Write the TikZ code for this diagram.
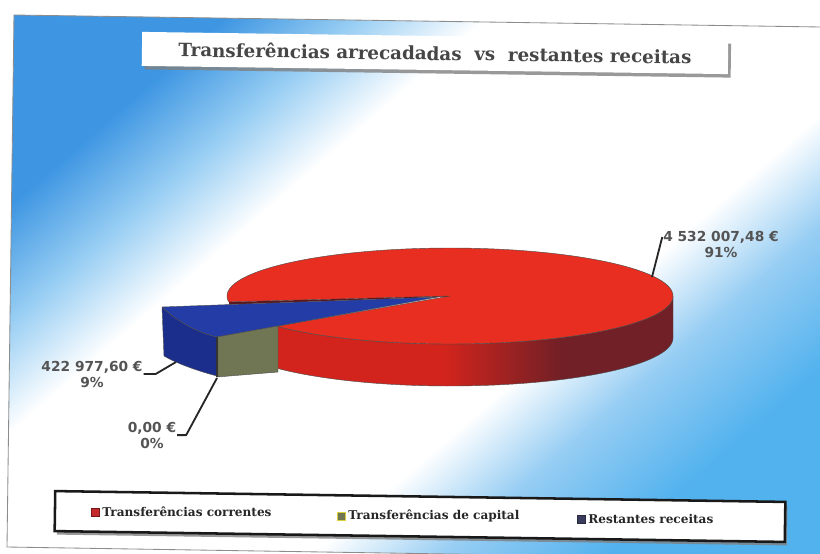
\documentclass[tikz,border=0pt]{standalone}
\usepackage{fontspec}
\setmainfont{DejaVu Serif}
\newfontfamily\titlefont{DejaVu Serif}
\newfontfamily\keyfont{DejaVu Serif}
\newfontfamily\valuefont{DejaVu Sans}
\usetikzlibrary{positioning,shadows}

\definecolor{skytop}{RGB}{62,150,226}
\definecolor{skypale}{RGB}{150,205,243}
\definecolor{skylow}{RGB}{82,178,238}
\definecolor{redtop}{RGB}{232,46,32}
\definecolor{redside}{RGB}{210,36,28}
\definecolor{redshade}{RGB}{112,32,38}
\definecolor{bluetop}{RGB}{36,60,166}
\definecolor{blueside}{RGB}{28,46,140}
\definecolor{olivecut}{RGB}{112,118,84}
\definecolor{valuegray}{RGB}{84,84,84}
\definecolor{titlegray}{RGB}{70,70,70}
\definecolor{keyred}{RGB}{196,40,44}
\definecolor{keyblue}{RGB}{58,60,92}

\pgfdeclarehorizontalshading{skyband}{100bp}{color(0bp)=(skytop); color(25.5bp)=(skytop); color(31.9bp)=(skypale); color(38.3bp)=(white); color(59.9bp)=(white); color(66.3bp)=(skypale); color(74.3bp)=(skylow); color(100bp)=(skylow)}
\pgfdeclarehorizontalshading{redrim}{100bp}{color(0bp)=(redside); color(46bp)=(redside); color(61bp)=(redshade); color(100bp)=(redshade)}

\begin{document}
\begin{tikzpicture}[
    x=0.025cm, y=-0.025cm,
    face/.style={draw=black!70, line width=0.3pt, line join=round},
    leader/.style={draw=black!85, line width=1.3pt, line join=round},
    value/.style={font=\valuefont\bfseries\fontsize{9.8}{11}\selectfont, text=valuegray, inner sep=0.5pt},
    swatch/.style={rectangle, minimum size=5.5pt, inner sep=0pt, line width=0.5pt},
    key/.style={font=\keyfont\bfseries\fontsize{8.6}{10}\selectfont, text=black!85, inner sep=0pt}
]
\useasboundingbox (0,0) rectangle (820,553);
\fill[white] (0,0) rectangle (820,553);

% background
\shade[shading=skyband, shading angle=-49] (14,15) -- (821,27) -- (828,560) -- (7,547) -- cycle;
\draw[black!45, line width=0.6pt] (828,560) -- (7,547) -- (14,15) -- (821,27);

% title
\node[rectangle, fill=white, rotate=-0.8, minimum width=14.65cm, minimum height=0.85cm,
      drop shadow={shadow xshift=2pt, shadow yshift=-2.5pt, fill=black!50, opacity=0.8},
      font=\titlefont\bfseries\fontsize{13}{15}\selectfont, text=titlegray] (title) at (435,53)
      {Transferências arrecadadas~~vs~~restantes receitas};

% pie
\coordinate (ctr) at (450,296);
\shade[face, shading=redrim] plot[domain=141:0, samples=60, variable=\t] ({450+223*cos(\t)}, {296+48*sin(\t)})
    -- plot[domain=0:141, samples=60, variable=\t] ({450+223*cos(\t)}, {338+48*sin(\t)}) -- cycle;
\fill[redtop, face] plot[domain=141:-187, samples=120, variable=\t] ({450+223*cos(\t)}, {296+48*sin(\t)}) -- (ctr) -- cycle;

\coordinate (bl) at (162,307);
\coordinate (bf) at (217,337);
\coordinate (bt) at (438,297);
\coordinate (cut) at (278,326);
\fill[redshade!80!black] (229,302) -- (ctr) -- (bt) -- (229,304.6) -- cycle;
\fill[blueside, face] (bl) .. controls (180,324) and (200,333) .. (bf) -- (217,376) .. controls (198,371) and (178,364) .. (164,356) -- cycle;
\fill[bluetop, face] (bl) -- (bt) -- (cut) -- (bf) .. controls (200,333) and (180,324) .. (bl) -- cycle;
\fill[olivecut, face] (bf) -- (cut) -- (278,372) -- (217,377) -- cycle;
\draw[black!80, line width=0.8pt] (bf) -- (217,377);

% labels
\node[value] (valA) at (721,237) {4 532 007,48 €};
\node[value, below=1.5pt of valA] (pctA) {91\%};
\node[value] (valB) at (92,367) {422 977,60 €};
\node[value, below=1.5pt of valB] (pctB) {9\%};
\node[value] (valC) at (152,428) {0,00 €};
\node[value, below=1.5pt of valC] (pctC) {0\%};
\coordinate (redend) at (652,277);
\coordinate (blueend) at (176,362);
\coordinate (oliveend) at (217,378);
\draw[leader] (valA.west) -- (redend);
\draw[leader] (valB.south east) -- ++(12,0) -- (blueend);
\draw[leader] (valC.south east) -- ++(9,0) -- (oliveend);

% legend
\node[rectangle, draw=black!90, line width=1.8pt, fill=white, rotate=-0.85, minimum width=18.25cm, minimum height=1cm,
      drop shadow={shadow xshift=1.5pt, shadow yshift=-2.5pt, fill=black!50, opacity=0.8}] (legend) at (420,516.5) {};
\node[swatch, fill=keyred, draw=keyred!60!black] (swA) at (95,512) {};
\node[key, right=2pt of swA] (keyA) {Transferências correntes};
\node[swatch, fill=olivecut, draw=yellow!70!olivecut] (swB) at (341,516) {};
\node[key, right=2pt of swB] (keyB) {Transferências de capital};
\node[swatch, fill=keyblue, draw=keyblue!70!black] (swC) at (581,519) {};
\node[key, right=2pt of swC] (keyC) {Restantes receitas};

\end{tikzpicture}
\end{document}
